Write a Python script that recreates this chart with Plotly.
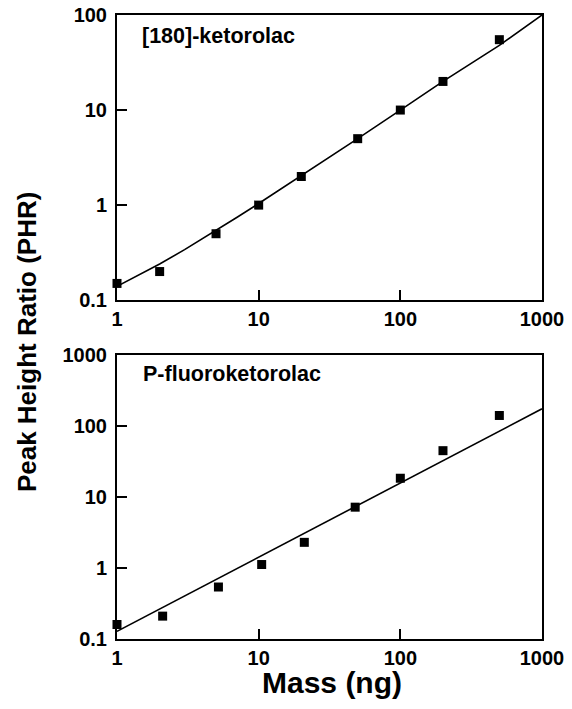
import plotly.graph_objects as go

# Top panel: [180]-ketorolac
mass_top = [1, 2, 5, 10, 20, 50, 100, 200, 500]
phr_top = [0.15, 0.2, 0.5, 1.0, 2.0, 5.0, 10.0, 20.0, 55.0]
fit_top_x = [1, 1.5, 2, 3, 5, 7, 10, 20, 50, 100, 200, 500, 1000]
fit_top_y = [0.14, 0.19, 0.24, 0.34, 0.54, 0.74, 1.04, 2.04, 5.0, 10.0, 20.0, 48.0, 100.0]

# Bottom panel: P-fluoroketorolac
mass_bot = [1, 2.1, 5.2, 10.5, 21, 48, 100, 200, 500]
phr_bot = [0.16, 0.21, 0.54, 1.12, 2.3, 7.2, 18.4, 45.0, 141.0]
fit_bot_x = [1, 1000]
fit_bot_y = [0.128, 175.0]

x_ticks = [1, 10, 100, 1000]
x_ticklabels = ["1", "10", "100", "1000"]
y_ticks_top = [0.1, 1, 10, 100]
y_ticklabels_top = ["0.1", "1", "10", "100"]
y_ticks_bot = [0.1, 1, 10, 100, 1000]
y_ticklabels_bot = ["0.1", "1", "10", "100", "1000"]

FONT = "Liberation Sans, Arial, Helvetica, sans-serif"

fig = go.Figure()
fig.add_trace(go.Scatter(x=fit_top_x, y=fit_top_y, mode="lines",
                         line=dict(color="black", width=1.6), xaxis="x", yaxis="y", showlegend=False))
fig.add_trace(go.Scatter(x=mass_top, y=phr_top, mode="markers",
                         marker=dict(symbol="square", size=9, color="black"), xaxis="x", yaxis="y",
                         showlegend=False, cliponaxis=False))
fig.add_trace(go.Scatter(x=fit_bot_x, y=fit_bot_y, mode="lines",
                         line=dict(color="black", width=1.6), xaxis="x2", yaxis="y2", showlegend=False))
fig.add_trace(go.Scatter(x=mass_bot, y=phr_bot, mode="markers",
                         marker=dict(symbol="square", size=9, color="black"), xaxis="x2", yaxis="y2",
                         showlegend=False, cliponaxis=False))

tickfont = dict(family=FONT, size=20, color="black", weight="bold")
common_axis = dict(type="log", showgrid=False, zeroline=False, showline=True, linecolor="black",
                   linewidth=2, mirror=True, ticks="inside", ticklen=10, tickwidth=2,
                   tickcolor="black", tickfont=tickfont, automargin=False)

fig.update_layout(
    width=572, height=709,
    margin=dict(l=117, r=30, t=15, b=70),
    paper_bgcolor="white", plot_bgcolor="white",
    xaxis=dict(**common_axis, range=[0, 3], tickvals=x_ticks, ticktext=x_ticklabels,
               anchor="y", domain=[0, 1], ticklabelstandoff=0),
    yaxis=dict(**common_axis, range=[-1, 2], tickvals=y_ticks_top, ticktext=y_ticklabels_top,
               anchor="x", domain=[0.543, 1.0], ticklabelstandoff=4),
    xaxis2=dict(**common_axis, range=[0, 3], tickvals=x_ticks, ticktext=x_ticklabels,
                anchor="y2", domain=[0, 1], ticklabelstandoff=0),
    yaxis2=dict(**common_axis, range=[-1, 3], tickvals=y_ticks_bot, ticktext=y_ticklabels_bot,
                anchor="x2", domain=[0, 0.455], ticklabelstandoff=4),
    annotations=[
        dict(text="[180]-ketorolac", xref="x domain", yref="y domain", x=0.053, y=0.926,
             xanchor="left", yanchor="middle", showarrow=False,
             font=dict(family=FONT, size=21.5, color="black", weight="bold")),
        dict(text="P-fluoroketorolac", xref="x2 domain", yref="y2 domain", x=0.056, y=0.933,
             xanchor="left", yanchor="middle", showarrow=False,
             font=dict(family=FONT, size=21.5, color="black", weight="bold")),
        dict(text="Peak Height Ratio (PHR)", xref="paper", yref="paper",
             x=-0.21, y=0.477, xanchor="center", yanchor="middle", textangle=-90,
             showarrow=False, font=dict(family=FONT, size=26, color="black", weight="bold")),
        dict(text="Mass (ng)", xref="paper", yref="paper",
             x=0.505, y=-0.069, xanchor="center", yanchor="middle",
             showarrow=False, font=dict(family=FONT, size=30, color="black", weight="bold")),
    ],
)

fig.write_html("out.html", config={"displayModeBar": False},
               post_script="document.body.style.margin='0px';")
